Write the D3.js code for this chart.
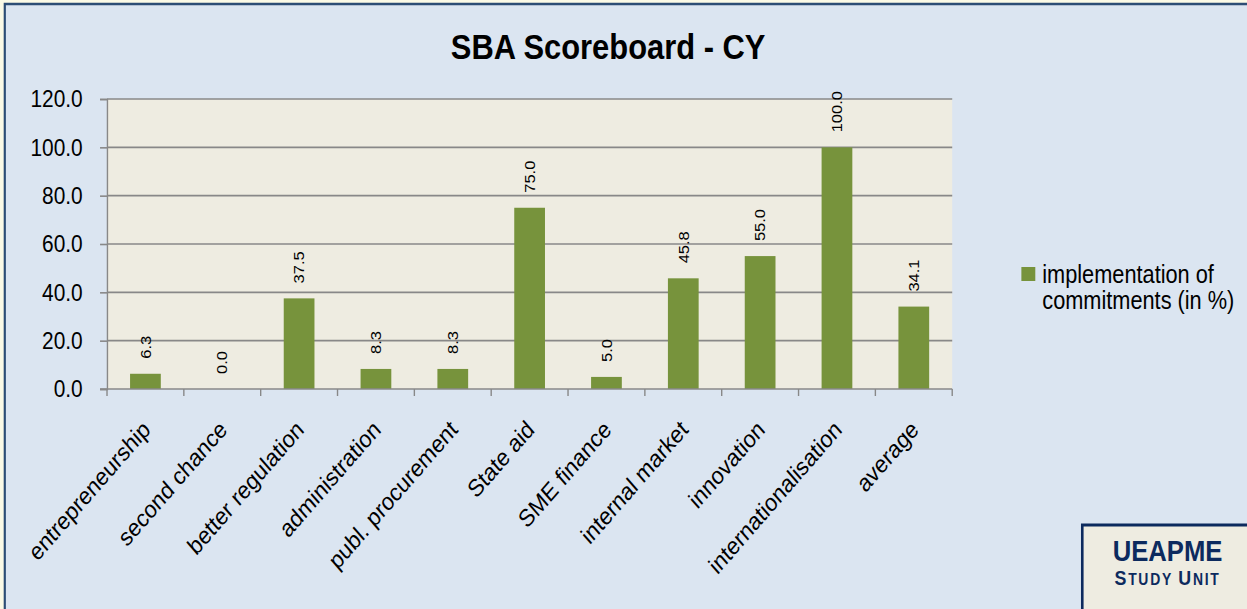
<!DOCTYPE html>
<html>
<head>
<meta charset="utf-8">
<script src="https://cdn.jsdelivr.net/npm/d3@7/dist/d3.min.js"></script>
<style>
  html, body { margin: 0; padding: 0; background: #fbfae6; }
  svg { display: block; font-family: "Liberation Sans", Arial, sans-serif; }
</style>
</head>
<body>
<div id="chart"></div>
<script>
// Dades llegides del gràfic
const categories = ['entrepreneurship', 'second chance', 'better regulation', 'administration',
    'publ. procurement', 'State aid', 'SME finance', 'internal market', 'innovation',
    'internationalisation', 'average'];
const values = [6.3, 0.0, 37.5, 8.3, 8.3, 75.0, 5.0, 45.8, 55.0, 100.0, 34.1];
const yTicks = [0, 20, 40, 60, 80, 100, 120];
const legendLines = ['implementation of', 'commitments (in %)'];
const title = 'SBA Scoreboard - CY';

const W = 1247, H = 609;
// la imatge original està comprimida horitzontalment
const SX = 0.87;
const innerW = W / SX;

const svg = d3.select('#chart').append('svg')
    .attr('width', W)
    .attr('height', H);

const root = svg.append('g').attr('transform', `scale(${SX},1)`);

// Marc exterior
root.append('rect')
    .attr('x', 5.5)
    .attr('y', 4)
    .attr('width', innerW + 20)
    .attr('height', H + 20)
    .attr('fill', '#dbe5f1')
    .attr('stroke', '#2c4d75')
    .attr('stroke-width', 2.5);

const plot = { left: 123, right: 1094.5, top: 99, bottom: 389 };

const x = d3.scaleBand()
    .domain(categories)
    .range([plot.left, plot.right])
    .padding(0);

const y = d3.scaleLinear()
    .domain([0, 120])
    .range([plot.bottom, plot.top]);

// Fons de l'àrea de dibuix
root.append('rect')
    .attr('x', plot.left)
    .attr('y', plot.top)
    .attr('width', plot.right - plot.left)
    .attr('height', plot.bottom - plot.top)
    .attr('fill', '#eeece1');

// Línies de graella
root.append('g')
    .selectAll('line')
    .data(yTicks.filter(d => d > 0))
    .join('line')
    .attr('x1', plot.left)
    .attr('x2', plot.right)
    .attr('y1', d => y(d))
    .attr('y2', d => y(d))
    .attr('stroke', '#888888')
    .attr('stroke-width', 1.6);

// Barres
const barW = x.bandwidth() * 0.4;
root.append('g')
    .selectAll('rect')
    .data(values)
    .join('rect')
    .attr('x', (d, i) => x(categories[i]) + x.bandwidth() / 2 - barW / 2)
    .attr('y', d => y(d))
    .attr('width', barW)
    .attr('height', d => y(0) - y(d))
    .attr('fill', '#77933c');

// Eix Y
const yAxis = root.append('g')
    .attr('transform', `translate(${plot.left},0)`)
    .call(d3.axisLeft(y).tickValues(yTicks).tickFormat(d3.format('.1f')).tickSize(8).tickPadding(20));
yAxis.select('.domain').attr('stroke', '#888888').attr('stroke-width', 1.6);
yAxis.selectAll('.tick line').attr('stroke', '#888888').attr('stroke-width', 1.6);
yAxis.selectAll('.tick text')
    .attr('font-size', '24px')
    .attr('font-family', '"Liberation Sans", Arial, sans-serif')
    .attr('fill', '#000');

// Eix X
const tickPos = categories.map(c => x(c)).concat([plot.right]);
root.append('line')
    .attr('x1', plot.left - 8)
    .attr('x2', plot.right)
    .attr('y1', y(0))
    .attr('y2', y(0))
    .attr('stroke', '#888888')
    .attr('stroke-width', 1.6);
root.append('g')
    .selectAll('line')
    .data(tickPos)
    .join('line')
    .attr('x1', d => d)
    .attr('x2', d => d)
    .attr('y1', y(0))
    .attr('y2', y(0) + 7)
    .attr('stroke', '#888888')
    .attr('stroke-width', 1.6);

// Etiquetes de categoria
root.append('g')
    .selectAll('text')
    .data(categories)
    .join('text')
    .attr('transform', d => `translate(${x(d) + x.bandwidth() / 2 + 7},431) rotate(-45)`)
    .attr('text-anchor', 'end')
    .attr('font-size', '24.5px')
    .attr('fill', '#000')
    .text(d => d);

// Etiquetes de valor
root.append('g')
    .selectAll('text')
    .data(values)
    .join('text')
    .attr('transform', (d, i) => `translate(${x(categories[i]) + x.bandwidth() / 2 + 6},${y(d) - 15}) rotate(-90)`)
    .attr('text-anchor', 'start')
    .attr('font-size', '16.5px')
    .attr('fill', '#000')
    .text(d => d3.format('.1f')(d));

// Títol
root.append('text')
    .attr('x', 699)
    .attr('y', 59)
    .attr('text-anchor', 'middle')
    .attr('font-size', '35.5px')
    .attr('font-weight', 'bold')
    .attr('fill', '#000')
    .text(title);

// Llegenda
const legend = root.append('g');
legend.append('rect')
    .attr('x', 1174)
    .attr('y', 267)
    .attr('width', 16)
    .attr('height', 14)
    .attr('fill', '#77933c');
legend.selectAll('text')
    .data(legendLines)
    .join('text')
    .attr('x', 1198)
    .attr('y', (d, i) => 283 + i * 26)
    .attr('font-size', '25px')
    .attr('fill', '#000')
    .text(d => d);

// Logo UEAPME
const logo = root.append('g');
logo.append('rect')
    .attr('x', 1244)
    .attr('y', 525)
    .attr('width', 300)
    .attr('height', 200)
    .attr('fill', '#eeece1')
    .attr('stroke', '#0c2a5e')
    .attr('stroke-width', 3);
logo.append('text')
    .attr('x', 1342)
    .attr('y', 561)
    .attr('text-anchor', 'middle')
    .attr('font-size', '29.5px')
    .attr('font-weight', 'bold')
    .attr('fill', '#0c2a5e')
    .text('UEAPME');
const sub = logo.append('text')
    .attr('x', 1342)
    .attr('y', 585)
    .attr('text-anchor', 'middle')
    .attr('font-weight', 'bold')
    .attr('letter-spacing', '2px')
    .attr('fill', '#0c2a5e');
[['S', 20.5], ['TUDY ', 16], ['U', 20.5], ['NIT', 16]].forEach(([t, s]) => {
    sub.append('tspan').attr('font-size', s + 'px').text(t);
});
</script>
</body>
</html>
